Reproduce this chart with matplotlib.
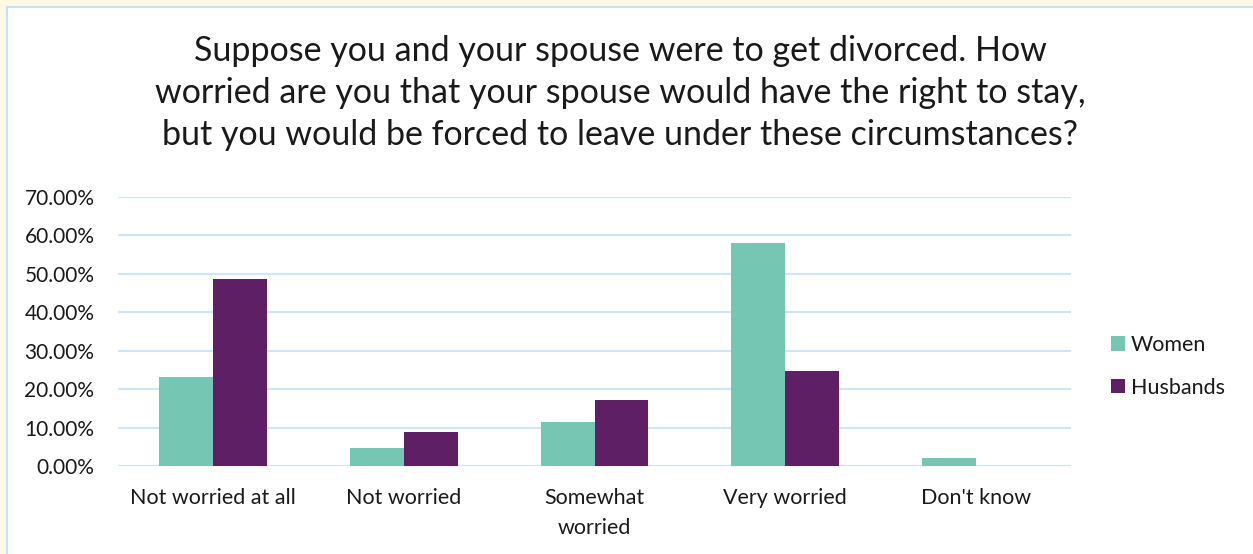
import matplotlib
matplotlib.use('Agg')

import matplotlib.pyplot as plt
import numpy as np
from matplotlib.patches import Rectangle
from matplotlib.ticker import PercentFormatter

plt.rcParams['font.family'] = ['Lato', 'DejaVu Sans']

categories = ['Not worried at all', 'Not worried', 'Somewhat\nworried', 'Very worried', "Don't know"]
women = [0.231, 0.046, 0.114, 0.581, 0.020]
husbands = [0.487, 0.088, 0.172, 0.247, 0.0]
yticks = [0, 0.1, 0.2, 0.3, 0.4, 0.5, 0.6, 0.7]

title = ('Suppose you and your spouse were to get divorced. How\n'
         'worried are you that your spouse would have the right to stay,\n'
         'but you would be forced to leave under these circumstances?')

teal = '#76C6B4'
purple = '#5E1F64'
grid_col = '#CDE6FA'
text_col = '#1a1a1a'

fig = plt.figure(figsize=(12.53, 5.54), dpi=100)
fig.patch.set_facecolor('#FFF9E5')

# white chart area with a thin blue frame (runs off the right/bottom edge)
fig.patches.append(Rectangle((7 / 1253, -0.05), 1.1, 1.05 - 7 / 554, transform=fig.transFigure,
                             facecolor='white', edgecolor='#C5E2FA', linewidth=1.5, zorder=-5))

ax = fig.add_axes([118 / 1253, 1 - 466 / 554, (1071 - 118) / 1253, (466 - 197) / 554])
ax.set_facecolor('none')

x = np.arange(len(categories))
w = 0.283
ax.bar(x - w / 2, women, w, color=teal, label='Women', zorder=3)
ax.bar(x + w / 2, husbands, w, color=purple, label='Husbands', zorder=3)

ax.set_xlim(-0.5, len(categories) - 0.5)
ax.set_ylim(0, 0.7)
ax.set_yticks(yticks)
ax.yaxis.set_major_formatter(PercentFormatter(1.0, decimals=2))
ax.grid(axis='y', color=grid_col, linewidth=1.5, zorder=0)
for s in ax.spines.values():
    s.set_visible(False)
ax.tick_params(axis='both', length=0, colors=text_col)
ax.tick_params(axis='y', pad=17, labelsize=15)
ax.tick_params(axis='x', pad=16, labelsize=15.5)
ax.set_xticks(x)
ax.set_xticklabels(categories, linespacing=1.6)

fig.text(0.495, 1 - 93 / 554, title, ha='center', va='center', fontsize=24.5,
         color=text_col, linespacing=1.4)

ax.legend(loc='center left', bbox_to_anchor=(1.022, 0.37), frameon=False,
          fontsize=15.5, handlelength=0.65, handleheight=0.65, handletextpad=0.25,
          labelspacing=1.05, labelcolor=text_col)

fig.savefig('out.png', dpi=100, facecolor=fig.get_facecolor())
